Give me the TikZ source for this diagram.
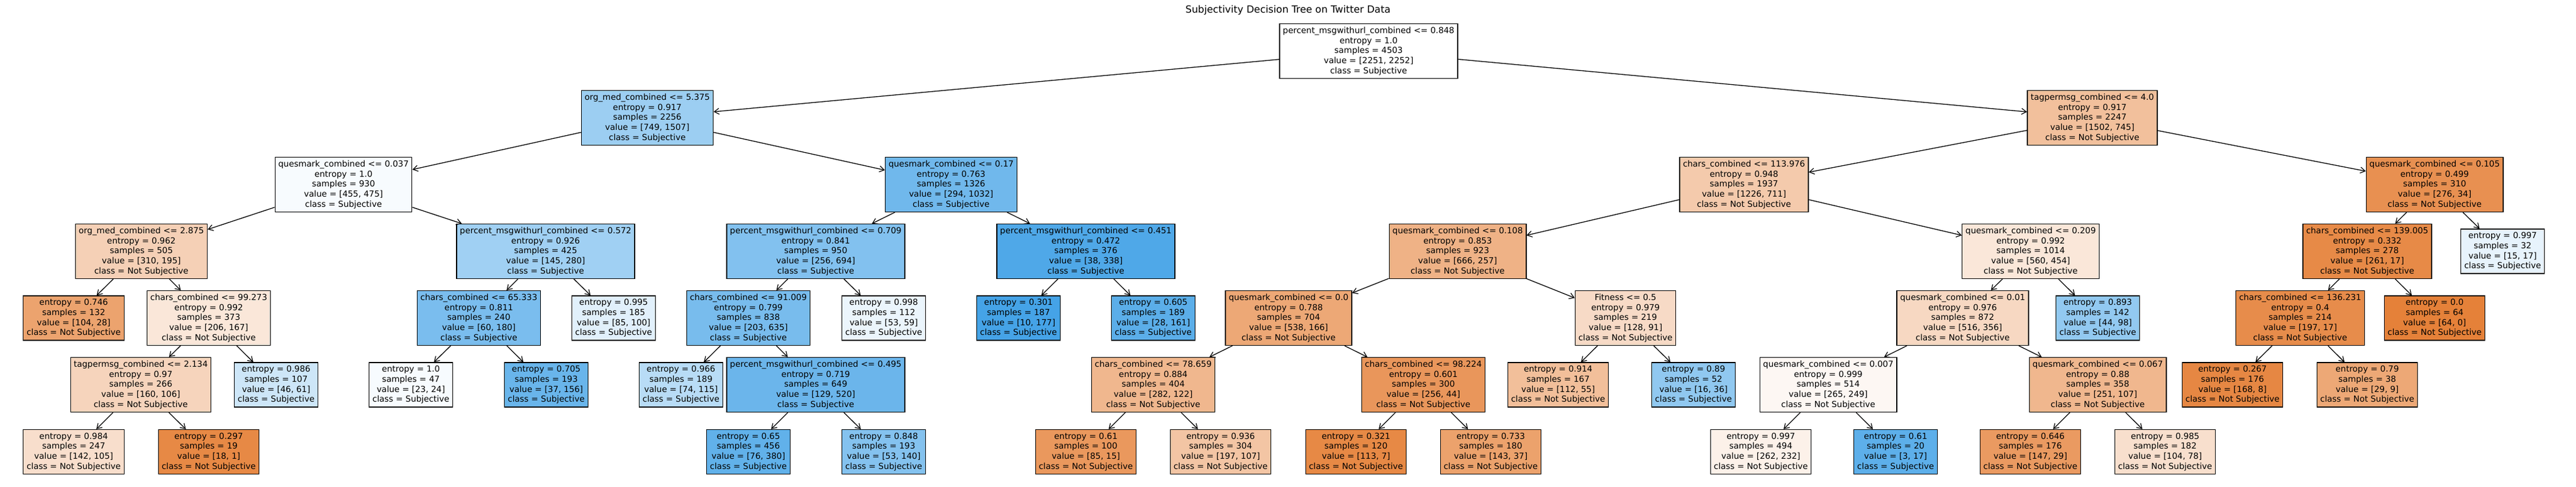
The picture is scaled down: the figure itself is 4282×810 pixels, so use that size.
\documentclass[tikz,border=0pt]{standalone}
\usepackage{fontspec}
\setmainfont{DejaVu Sans}
\usetikzlibrary{arrows.meta}
\definecolor{NS}{RGB}{229,129,57}
\definecolor{SU}{RGB}{57,157,229}
\tikzset{
  box/.style={draw=black, line width=1.3pt, align=center, inner xsep=5.5pt, inner ysep=5.5pt,
    font=\fontsize{13.9}{16.6}\selectfont},
  edge/.style={line width=1.3pt, -{Straight Barb[length=8pt,width=10pt,line width=1.2pt]}}
}
\begin{document}
\begin{tikzpicture}[x=1pt,y=-1pt]
\useasboundingbox (0,0) rectangle (4282,810);
\node[font=\fontsize{16.4}{19.7}\selectfont] (title) at (2141,17) {Subjectivity Decision Tree on Twitter Data};
% row 1
\node[box, fill=white] (root) at (2275,85) {percent\_msgwithurl\_combined <= 0.848\\entropy = 1.0\\samples = 4503\\value = [2251, 2252]\\class = Subjective};
% row 2
\node[box, fill=SU!50!white] (o5375) at (1076,196) {org\_med\_combined <= 5.375\\entropy = 0.917\\samples = 2256\\value = [749, 1507]\\class = Subjective};
\node[box, fill=NS!50!white] (t40) at (3478,196) {tagpermsg\_combined <= 4.0\\entropy = 0.917\\samples = 2247\\value = [1502, 745]\\class = Not Subjective};
% row 3
\node[box, fill=SU!4!white] (q037) at (571,307) {quesmark\_combined <= 0.037\\entropy = 1.0\\samples = 930\\value = [455, 475]\\class = Subjective};
\node[box, fill=SU!72!white] (q017) at (1581,307) {quesmark\_combined <= 0.17\\entropy = 0.763\\samples = 1326\\value = [294, 1032]\\class = Subjective};
\node[box, fill=NS!42!white] (c113) at (2899,307) {chars\_combined <= 113.976\\entropy = 0.948\\samples = 1937\\value = [1226, 711]\\class = Not Subjective};
\node[box, fill=NS!88!white] (q105) at (4047,307) {quesmark\_combined <= 0.105\\entropy = 0.499\\samples = 310\\value = [276, 34]\\class = Not Subjective};
% row 4
\node[box, fill=NS!37!white] (o2875) at (235,418) {org\_med\_combined <= 2.875\\entropy = 0.962\\samples = 505\\value = [310, 195]\\class = Not Subjective};
\node[box, fill=SU!48!white] (p572) at (907,418) {percent\_msgwithurl\_combined <= 0.572\\entropy = 0.926\\samples = 425\\value = [145, 280]\\class = Subjective};
\node[box, fill=SU!63!white] (p709) at (1356,418) {percent\_msgwithurl\_combined <= 0.709\\entropy = 0.841\\samples = 950\\value = [256, 694]\\class = Subjective};
\node[box, fill=SU!89!white] (p451) at (1805,418) {percent\_msgwithurl\_combined <= 0.451\\entropy = 0.472\\samples = 376\\value = [38, 338]\\class = Subjective};
\node[box, fill=NS!61!white] (q108) at (2423,418) {quesmark\_combined <= 0.108\\entropy = 0.853\\samples = 923\\value = [666, 257]\\class = Not Subjective};
\node[box, fill=NS!19!white] (q209) at (3375.5,418) {quesmark\_combined <= 0.209\\entropy = 0.992\\samples = 1014\\value = [560, 454]\\class = Not Subjective};
\node[box, fill=NS!93!white] (c139) at (3935,418) {chars\_combined <= 139.005\\entropy = 0.332\\samples = 278\\value = [261, 17]\\class = Not Subjective};
\node[box, fill=SU!12!white] (l0997a) at (4160,418) {entropy = 0.997\\samples = 32\\value = [15, 17]\\class = Subjective};
% row 5
\node[box, fill=NS!73!white] (l0746) at (122.5,529) {entropy = 0.746\\samples = 132\\value = [104, 28]\\class = Not Subjective};
\node[box, fill=NS!19!white] (c99) at (347,529) {chars\_combined <= 99.273\\entropy = 0.992\\samples = 373\\value = [206, 167]\\class = Not Subjective};
\node[box, fill=SU!67!white] (c65) at (796,529) {chars\_combined <= 65.333\\entropy = 0.811\\samples = 240\\value = [60, 180]\\class = Subjective};
\node[box, fill=SU!15!white] (l0995) at (1020,529) {entropy = 0.995\\samples = 185\\value = [85, 100]\\class = Subjective};
\node[box, fill=SU!68!white] (c91) at (1244,529) {chars\_combined <= 91.009\\entropy = 0.799\\samples = 838\\value = [203, 635]\\class = Subjective};
\node[box, fill=SU!10!white] (l0998) at (1469,529) {entropy = 0.998\\samples = 112\\value = [53, 59]\\class = Subjective};
\node[box, fill=SU!94!white] (l0301) at (1693,529) {entropy = 0.301\\samples = 187\\value = [10, 177]\\class = Subjective};
\node[box, fill=SU!83!white] (l0605) at (1917,529) {entropy = 0.605\\samples = 189\\value = [28, 161]\\class = Subjective};
\node[box, fill=NS!69!white] (q00) at (2142,529) {quesmark\_combined <= 0.0\\entropy = 0.788\\samples = 704\\value = [538, 166]\\class = Not Subjective};
\node[box, fill=NS!29!white] (fit) at (2702,529) {Fitness <= 0.5\\entropy = 0.979\\samples = 219\\value = [128, 91]\\class = Not Subjective};
\node[box, fill=NS!31!white] (q001) at (3262.5,529) {quesmark\_combined <= 0.01\\entropy = 0.976\\samples = 872\\value = [516, 356]\\class = Not Subjective};
\node[box, fill=SU!55!white] (l0893) at (3487,529) {entropy = 0.893\\samples = 142\\value = [44, 98]\\class = Subjective};
\node[box, fill=NS!91!white] (c136) at (3823.5,529) {chars\_combined <= 136.231\\entropy = 0.4\\samples = 214\\value = [197, 17]\\class = Not Subjective};
\node[box, fill=NS!100!white] (l00) at (4047,529) {entropy = 0.0\\samples = 64\\value = [64, 0]\\class = Not Subjective};
% row 6
\node[box, fill=NS!34!white] (t2134) at (234,640) {tagpermsg\_combined <= 2.134\\entropy = 0.97\\samples = 266\\value = [160, 106]\\class = Not Subjective};
\node[box, fill=SU!25!white] (l0986) at (459,640) {entropy = 0.986\\samples = 107\\value = [46, 61]\\class = Subjective};
\node[box, fill=SU!4!white] (l10) at (683,640) {entropy = 1.0\\samples = 47\\value = [23, 24]\\class = Subjective};
\node[box, fill=SU!76!white] (l0705) at (908,640) {entropy = 0.705\\samples = 193\\value = [37, 156]\\class = Subjective};
\node[box, fill=SU!36!white] (l0966) at (1132,640) {entropy = 0.966\\samples = 189\\value = [74, 115]\\class = Subjective};
\node[box, fill=SU!75!white] (p495) at (1356,640) {percent\_msgwithurl\_combined <= 0.495\\entropy = 0.719\\samples = 649\\value = [129, 520]\\class = Subjective};
\node[box, fill=NS!57!white] (c78) at (1917,640) {chars\_combined <= 78.659\\entropy = 0.884\\samples = 404\\value = [282, 122]\\class = Not Subjective};
\node[box, fill=NS!83!white] (c98) at (2366,640) {chars\_combined <= 98.224\\entropy = 0.601\\samples = 300\\value = [256, 44]\\class = Not Subjective};
\node[box, fill=NS!51!white] (l0914) at (2590,640) {entropy = 0.914\\samples = 167\\value = [112, 55]\\class = Not Subjective};
\node[box, fill=SU!56!white] (l089) at (2815,640) {entropy = 0.89\\samples = 52\\value = [16, 36]\\class = Subjective};
\node[box, fill=NS!6!white] (q0007) at (3039,640) {quesmark\_combined <= 0.007\\entropy = 0.999\\samples = 514\\value = [265, 249]\\class = Not Subjective};
\node[box, fill=NS!57!white] (q067) at (3487,640) {quesmark\_combined <= 0.067\\entropy = 0.88\\samples = 358\\value = [251, 107]\\class = Not Subjective};
\node[box, fill=NS!95!white] (l0267) at (3711,640) {entropy = 0.267\\samples = 176\\value = [168, 8]\\class = Not Subjective};
\node[box, fill=NS!69!white] (l079) at (3935,640) {entropy = 0.79\\samples = 38\\value = [29, 9]\\class = Not Subjective};
% row 7
\node[box, fill=NS!26!white] (l0984) at (122.5,751.5) {entropy = 0.984\\samples = 247\\value = [142, 105]\\class = Not Subjective};
\node[box, fill=NS!94!white] (l0297) at (347,751.5) {entropy = 0.297\\samples = 19\\value = [18, 1]\\class = Not Subjective};
\node[box, fill=SU!80!white] (l065) at (1244,751.5) {entropy = 0.65\\samples = 456\\value = [76, 380]\\class = Subjective};
\node[box, fill=SU!62!white] (l0848) at (1469,751.5) {entropy = 0.848\\samples = 193\\value = [53, 140]\\class = Subjective};
\node[box, fill=NS!82!white] (l061a) at (1805,751.5) {entropy = 0.61\\samples = 100\\value = [85, 15]\\class = Not Subjective};
\node[box, fill=NS!46!white] (l0936) at (2029,751.5) {entropy = 0.936\\samples = 304\\value = [197, 107]\\class = Not Subjective};
\node[box, fill=NS!94!white] (l0321) at (2254,751.5) {entropy = 0.321\\samples = 120\\value = [113, 7]\\class = Not Subjective};
\node[box, fill=NS!74!white] (l0733) at (2478,751.5) {entropy = 0.733\\samples = 180\\value = [143, 37]\\class = Not Subjective};
\node[box, fill=NS!11!white] (l0997b) at (2927,751.5) {entropy = 0.997\\samples = 494\\value = [262, 232]\\class = Not Subjective};
\node[box, fill=SU!82!white] (l061b) at (3151,751.5) {entropy = 0.61\\samples = 20\\value = [3, 17]\\class = Subjective};
\node[box, fill=NS!80!white] (l0646) at (3375,751.5) {entropy = 0.646\\samples = 176\\value = [147, 29]\\class = Not Subjective};
\node[box, fill=NS!25!white] (l0985) at (3599,751.5) {entropy = 0.985\\samples = 182\\value = [104, 78]\\class = Not Subjective};
% edges
\foreach \a/\b in {root/o5375, root/t40, o5375/q037, o5375/q017, t40/c113, t40/q105,
  q037/o2875, q037/p572, q017/p709, q017/p451, c113/q108, c113/q209, q105/c139, q105/l0997a,
  o2875/l0746, o2875/c99, p572/c65, p572/l0995, p709/c91, p709/l0998, p451/l0301, p451/l0605,
  q108/q00, q108/fit, q209/q001, q209/l0893, c139/c136, c139/l00,
  c99/t2134, c99/l0986, c65/l10, c65/l0705, c91/l0966, c91/p495, q00/c78, q00/c98,
  fit/l0914, fit/l089, q001/q0007, q001/q067, c136/l0267, c136/l079,
  t2134/l0984, t2134/l0297, p495/l065, p495/l0848, c78/l061a, c78/l0936, c98/l0321, c98/l0733,
  q0007/l0997b, q0007/l061b, q067/l0646, q067/l0985}
  \draw[edge] (\a) -- (\b);
\end{tikzpicture}
\end{document}
